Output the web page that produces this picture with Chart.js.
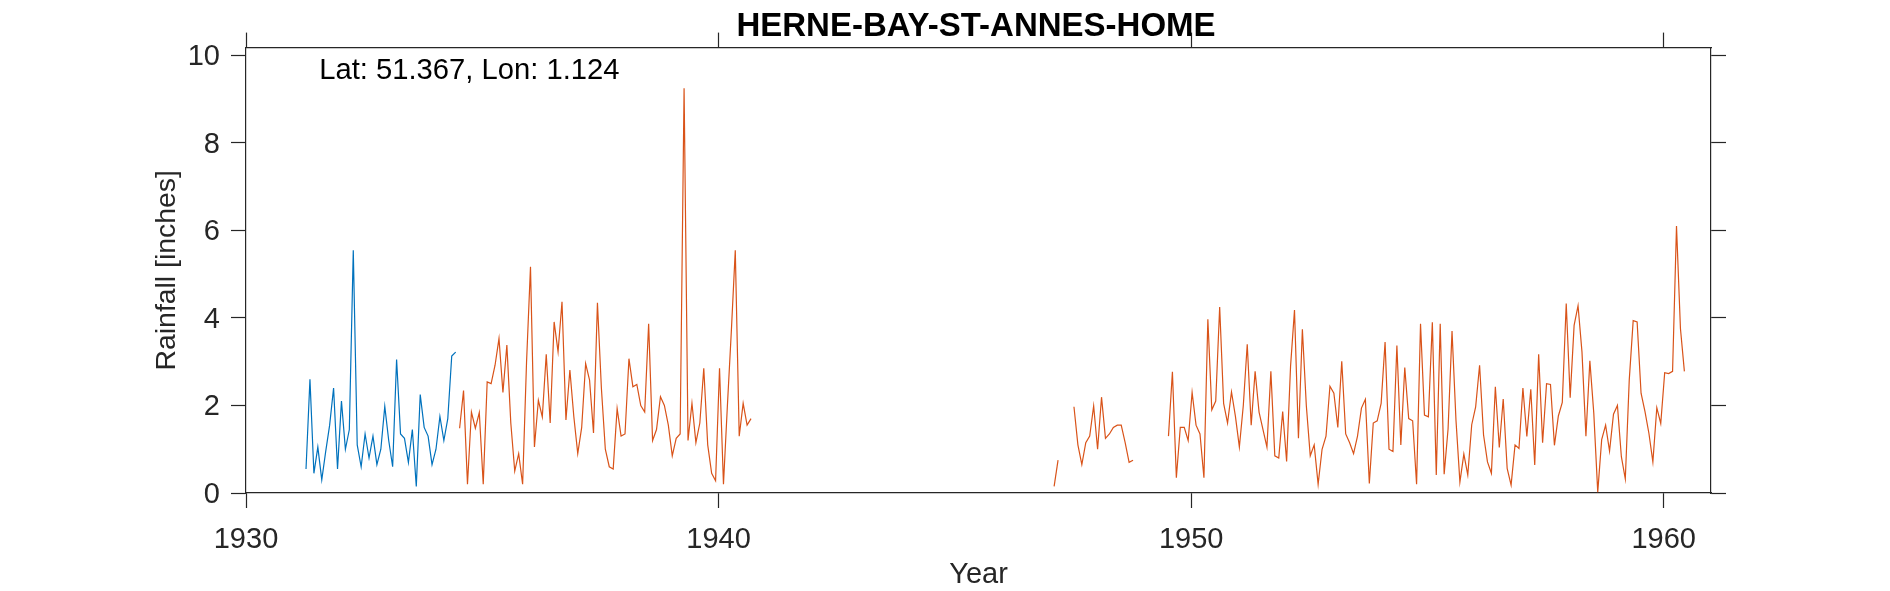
<!DOCTYPE html>
<html>
<head>
<meta charset="utf-8">
<title>HERNE-BAY-ST-ANNES-HOME</title>
<script src="https://cdn.jsdelivr.net/npm/chart.js@4"></script>
<style>
  html, body { margin: 0; padding: 0; background: #fff; overflow: hidden; }
  canvas { display: block; }
</style>
</head>
<body>
<canvas id="myChart" width="1890" height="591"></canvas>
<script>
const xTicks = [1930, 1940, 1950, 1960];
const yTicks = [0, 2, 4, 6, 8, 10];

// Each run is monthly, the start is the decimal year of its first reading
const blueStart = 1931.27;
const blueRain = [
  0.55, 2.6, 0.45, 1.05, 0.3, 0.95, 1.55, 2.4, 0.55, 2.1, 1.0, 1.45, 5.55,
  1.1, 0.6, 1.35, 0.8, 1.3, 0.65, 1.0, 1.98, 1.2, 0.6, 3.05, 1.35, 1.25,
  0.7, 1.45, 0.15, 2.25, 1.5, 1.3, 0.65, 1.0, 1.75, 1.2, 1.7, 3.13, 3.22,
];

const orangeStart1 = 1934.52;
const orangeRain1 = [
  1.48, 2.34, 0.2, 1.85, 1.48, 1.84, 0.2, 2.54, 2.5, 2.92, 3.53, 2.3, 3.38,
  1.6, 0.5, 0.9, 0.2, 3.0, 5.17, 1.05, 2.12, 1.74, 3.17, 1.6, 3.91, 3.23,
  4.37, 1.67, 2.81, 1.75, 0.9, 1.5, 2.96, 2.58, 1.37, 4.35, 2.4, 1.0, 0.6,
  0.55, 1.93, 1.3, 1.35, 3.07, 2.43, 2.48, 2.0, 1.85, 3.87, 1.2, 1.45, 2.2,
  2.0, 1.55, 0.85, 1.25, 1.35, 9.25, 1.2, 2.05, 1.15, 1.6, 2.85, 1.1, 0.45,
  0.28, 2.85, 0.2, 2.0, 3.7, 5.55, 1.3, 2.05, 1.55, 1.7,
];

const orangeStart2 = 1947.1;
const orangeRain2 = [0.15, 0.75];

const orangeStart3 = 1947.52;
const orangeRain3 = [
  1.97, 1.1, 0.65, 1.15, 1.3, 1.99, 1.0, 2.19, 1.25, 1.35, 1.5, 1.55, 1.55,
  1.15, 0.7, 0.75,
];

const orangeStart4 = 1949.52;
const orangeRain4 = [
  1.3, 2.77, 0.35, 1.5, 1.5, 1.2, 2.3, 1.55, 1.35, 0.35, 3.97, 1.9, 2.1,
  4.25, 2.05, 1.6, 2.31, 1.75, 1.05, 2.0, 3.4, 1.55, 2.78, 1.85, 1.45, 1.05,
  2.78, 0.85, 0.8, 1.86, 0.72, 2.9, 4.18, 1.25, 3.74, 2.0, 0.85, 1.1, 0.2,
  1.0, 1.3, 2.44, 2.28, 1.5, 3.01, 1.35, 1.15, 0.9, 1.3, 1.94, 2.14, 0.22,
  1.6, 1.65, 2.05, 3.45, 1.0, 0.95, 3.37, 1.1, 2.87, 1.7, 1.65, 0.2, 3.87,
  1.78, 1.74, 3.9, 0.41, 3.87, 0.43, 1.47, 3.7, 1.67, 0.25, 0.89, 0.41, 1.56,
  1.97, 2.92, 1.33, 0.71, 0.45, 2.43, 1.04, 2.15, 0.56, 0.18, 1.1, 1.02, 2.4,
  1.29, 2.37, 0.64, 3.17, 1.15, 2.5, 2.48, 1.09, 1.76, 2.07, 4.33, 2.18, 3.83,
  4.28, 3.22, 1.3, 3.02, 1.82, 0.02, 1.22, 1.55, 0.96, 1.8, 2.0, 0.83, 0.32,
  2.58, 3.94, 3.91, 2.28, 1.86, 1.36, 0.71, 1.95, 1.59, 2.75, 2.73, 2.78, 6.1,
  3.76, 2.78,
];

const blue = "#0072BD";
const orange = "#D95319";
const axisColor = "#262626";
const fontFamily = "'Liberation Sans', Arial, sans-serif";

// Une los valores mensuales con su año
function toPoints(start, values) {
  return values.map((v, i) => ({ x: start + i / 12, y: v }));
}

function lineDataset(start, values, color) {
  return {
    data: toPoints(start, values),
    borderColor: color,
    borderWidth: 1.2,
    pointRadius: 0,
    tension: 0,
    fill: false,
  };
}

// Texto de latitud y longitud dentro del gráfico
const latLonLabel = {
  id: "latLonLabel",
  afterDraw(chart) {
    const { ctx, scales } = chart;
    ctx.save();
    ctx.fillStyle = "#000";
    ctx.font = "29.2px " + fontFamily;
    ctx.textAlign = "left";
    ctx.textBaseline = "middle";
    ctx.fillText("Lat: 51.367, Lon: 1.124", scales.x.getPixelForValue(1931.55), scales.y.getPixelForValue(9.65));
    ctx.restore();
  },
};

const axisGrid = {
  drawOnChartArea: false,
  drawTicks: true,
  tickLength: 15,
  tickColor: axisColor,
  tickWidth: 1.2,
};

const axisBorder = { display: true, color: axisColor, width: 1.2 };

const config = {
  type: "line",
  data: {
    datasets: [
      lineDataset(blueStart, blueRain, blue),
      lineDataset(orangeStart1, orangeRain1, orange),
      lineDataset(orangeStart2, orangeRain2, orange),
      lineDataset(orangeStart3, orangeRain3, orange),
      lineDataset(orangeStart4, orangeRain4, orange),
    ],
  },
  options: {
    responsive: false,
    animation: false,
    devicePixelRatio: 1,
    // left padding keeps the title centred over the axes box
    layout: { padding: { left: 62 } },
    plugins: {
      legend: { display: false },
      tooltip: { enabled: false },
      title: {
        display: true,
        text: "HERNE-BAY-ST-ANNES-HOME",
        color: "#000",
        font: { family: fontFamily, size: 33, weight: "bold" },
        padding: { top: 7, bottom: 0 },
      },
    },
    scales: {
      x: {
        type: "linear",
        position: "bottom",
        min: 1930,
        max: 1961,
        afterBuildTicks: (s) => { s.ticks = xTicks.map((v) => ({ value: v })); },
        afterFit: (s) => { s.height = 98; },
        grid: axisGrid,
        border: axisBorder,
        ticks: {
          color: axisColor,
          maxRotation: 0,
          padding: 15,
          callback: (v) => String(v),
          font: { family: fontFamily, size: 29 },
        },
        title: {
          display: true,
          text: "Year",
          color: axisColor,
          padding: { top: 0, bottom: -1 },
          font: { family: fontFamily, size: 29 },
        },
      },
      x2: {
        type: "linear",
        position: "top",
        min: 1930,
        max: 1961,
        afterBuildTicks: (s) => { s.ticks = xTicks.map((v) => ({ value: v })); },
        afterFit: (s) => { s.height = 1; },
        grid: axisGrid,
        border: axisBorder,
        ticks: { display: false },
      },
      y: {
        type: "linear",
        position: "left",
        min: 0,
        max: 10.18,
        afterBuildTicks: (s) => { s.ticks = yTicks.map((v) => ({ value: v })); },
        afterFit: (s) => { s.width = 184; },
        grid: axisGrid,
        border: axisBorder,
        ticks: {
          color: axisColor,
          padding: 11,
          labelOffset: 2,
          font: { family: fontFamily, size: 29 },
        },
        title: {
          display: true,
          text: "Rainfall [inches]",
          color: axisColor,
          padding: { top: 88, bottom: 0 },
          font: { family: fontFamily, size: 28.4 },
        },
      },
      y2: {
        type: "linear",
        position: "right",
        min: 0,
        max: 10.18,
        afterBuildTicks: (s) => { s.ticks = yTicks.map((v) => ({ value: v })); },
        afterFit: (s) => { s.width = 179; },
        grid: axisGrid,
        border: axisBorder,
        ticks: { display: false },
      },
    },
  },
  plugins: [latLonLabel],
};

new Chart(document.getElementById("myChart").getContext("2d"), config);
</script>
</body>
</html>
